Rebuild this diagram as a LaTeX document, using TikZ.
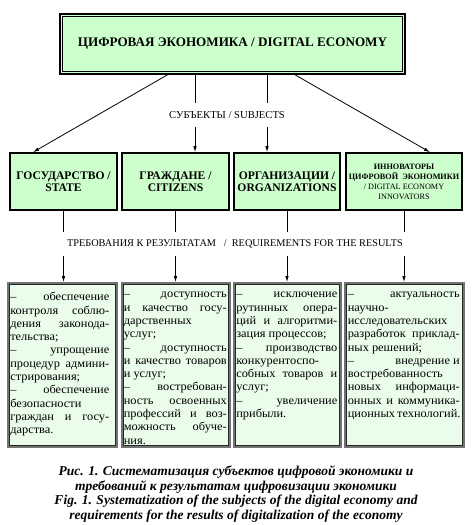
\documentclass[tikz,border=0pt]{standalone}
\usepackage{fontspec}
\setmainfont{Liberation Serif}
\newfontfamily\reqfont[Ligatures=TeX, FakeStretch=1.05]{Liberation Serif}
\usepackage{xcolor}
\usetikzlibrary{arrows.meta, positioning}

\definecolor{boxgreen}{HTML}{CCFFCC}
\definecolor{reqgreen}{HTML}{EAFCEA}

\begin{document}
\begin{tikzpicture}[x=1pt, y=-1pt,
    every node/.style={inner sep=0pt},
    arr/.style={-{Latex[length=6pt, width=3.5pt]}, line width=0.8pt},
    subject/.style={draw=black, line width=1.6pt, fill=boxgreen, align=center, font=\fontsize{11.6}{12.5}\selectfont\bfseries},
    reqbox/.style={draw=black!55, line width=1.8pt, fill=reqgreen},
    reqtext/.style={align=justify, font=\reqfont\fontsize{11.8}{13.3}\selectfont},
    caption/.style={align=center, font=\fontsize{13.5}{14.7}\selectfont\bfseries\itshape}]
    \useasboundingbox (0,0) rectangle (472,525);

    % Main box with double border
    \node[draw=black, line width=1.6pt, fill=boxgreen, minimum width=345pt, minimum height=60pt,
          font=\fontsize{13.1}{15}\selectfont\bfseries] (top) at (232.5,44) {ЦИФРОВАЯ ЭКОНОМИКА / DIGITAL ECONOMY};
    \draw[line width=0.7pt] ([shift={(3.5pt,-3.5pt)}]top.north west) rectangle ([shift={(-3.5pt,3.5pt)}]top.south east);

    % Subjects (Y = 181)
    \node[subject, minimum width=107pt, minimum height=57pt] (s1) at (63.5,181.5) {ГОСУДАРСТВО /\\STATE};
    \node[subject, minimum width=107pt, minimum height=57pt] (s2) at (175.5,181.5) {ГРАЖДАНЕ /\\CITIZENS};
    \node[subject, minimum width=106pt, minimum height=57pt] (s3) at (287,181.5) {ОРГАНИЗАЦИИ /\\ORGANIZATIONS};
    \node[subject, minimum width=116pt, minimum height=57pt, font=\fontsize{8.2}{10}\selectfont] (s4) at (404,181.5)
        {\textbf{ИННОВАТОРЫ}\\\textbf{ЦИФРОВОЙ\ \ ЭКОНОМИКИ}\\/ DIGITAL ECONOMY\\INNOVATORS};

    % Requirement boxes (Y = 283..447)
    \node[reqbox, minimum width=109pt, minimum height=164pt] (r1) at (62.5,365) {};
    \node[reqbox, minimum width=108pt, minimum height=164pt] (r2) at (176,365) {};
    \node[reqbox, minimum width=107pt, minimum height=164pt] (r3) at (287.5,365) {};
    \node[reqbox, minimum width=119pt, minimum height=164pt] (r4) at (404.5,365) {};
    \foreach \r in {r1, r2, r3, r4} {
        \draw[black!85, line width=0.6pt] ([shift={(2.2pt,-2.2pt)}]\r.north west) rectangle ([shift={(-2.2pt,2.2pt)}]\r.south east);
    }

    % Requirement texts
    \node[reqtext, text width=99pt, anchor=north west] (t1) at ([shift={(3pt,-10pt)}]r1.north west) {%
        –\hfill обеспечение\\
        контроля~соблю-\linebreak
        дения~законода-\linebreak
        тельства;\\
        –\hfill упрощение\\
        процедур~админи-\linebreak
        стрирования;\\
        –\hfill обеспечение\\
        безопасности\\
        граждан~и~госу-\linebreak
        дарства.};
    \node[reqtext, text width=103pt, anchor=north west] (t2) at ([shift={(2.5pt,-10pt)}]r2.north west) {%
        –\hfill доступность\\
        и~качество~госу-\linebreak
        дарственных\\
        услуг;\\
        –\hfill доступность\\
        и~качество~товаров\linebreak
        и~услуг;\\
        –\hfill востребован-\\
        ность~освоенных\linebreak
        профессий~и~воз-\linebreak
        можность~обуче-\linebreak
        ния.};
    \node[reqtext, text width=101pt, anchor=north west] (t3) at ([shift={(3pt,-10pt)}]r3.north west) {%
        –\hfill исключение\\
        рутинных~опера-\linebreak
        ций~и~алгоритми-\linebreak
        зация~процессов;\\
        –\hfill производство\\
        конкурентоспо-\linebreak
        собных~товаров~и\linebreak
        услуг;\\
        –\hfill увеличение\\
        прибыли.};
    \node[reqtext, text width=112pt, anchor=north west] (t4) at ([shift={(3.5pt,-10pt)}]r4.north west) {%
        –\hfill актуальность\\
        научно-\\
        исследовательских\\
        разработок~приклад-\linebreak
        ных~решений;\\
        –\hfill внедрение~и\\
        востребованность\\
        новых~информаци-\linebreak
        онных~и~коммуника-\linebreak
        ционных~технологий.};

    % Connectors from the main box
    \draw[arr] ([xshift=-65pt]top.south) -- ([xshift=-30.5pt]s1.north);
    \draw[arr] ([xshift=-37.5pt]top.south) -- ([xshift=-37.5pt]top.south |- s2.north);
    \draw[arr] ([xshift=34.5pt]top.south) -- ([xshift=34.5pt]top.south |- s3.north);
    \draw[arr] ([xshift=62.5pt]top.south) -- ([xshift=26pt]s4.north);

    % Connectors to the requirements
    \foreach \i in {1, 2, 3, 4} {
        \draw[arr] (s\i.south) -- (s\i.south |- r\i.north);
    }

    % Labels over the connectors
    \node[fill=white, inner xsep=3pt, inner ysep=8pt, font=\fontsize{10.6}{12}\selectfont] (subj) at (227,115) {СУБЪЕКТЫ / SUBJECTS};
    \node[fill=white, inner xsep=4pt, inner ysep=8pt, font=\fontsize{10.3}{12}\selectfont] (reqs) at (235,244)
        {ТРЕБОВАНИЯ К РЕЗУЛЬТАТАМ \ \ / \ REQUIREMENTS FOR THE RESULTS};

    % Caption
    \node[caption] (cap) at (236,494) {Рис. 1. Систематизация субъектов цифровой экономики и\\
        требований к результатам цифровизации экономики\\
        Fig. 1. Systematization of the subjects of the digital economy and\\
        requirements for the results of digitalization of the economy};
\end{tikzpicture}
\end{document}
